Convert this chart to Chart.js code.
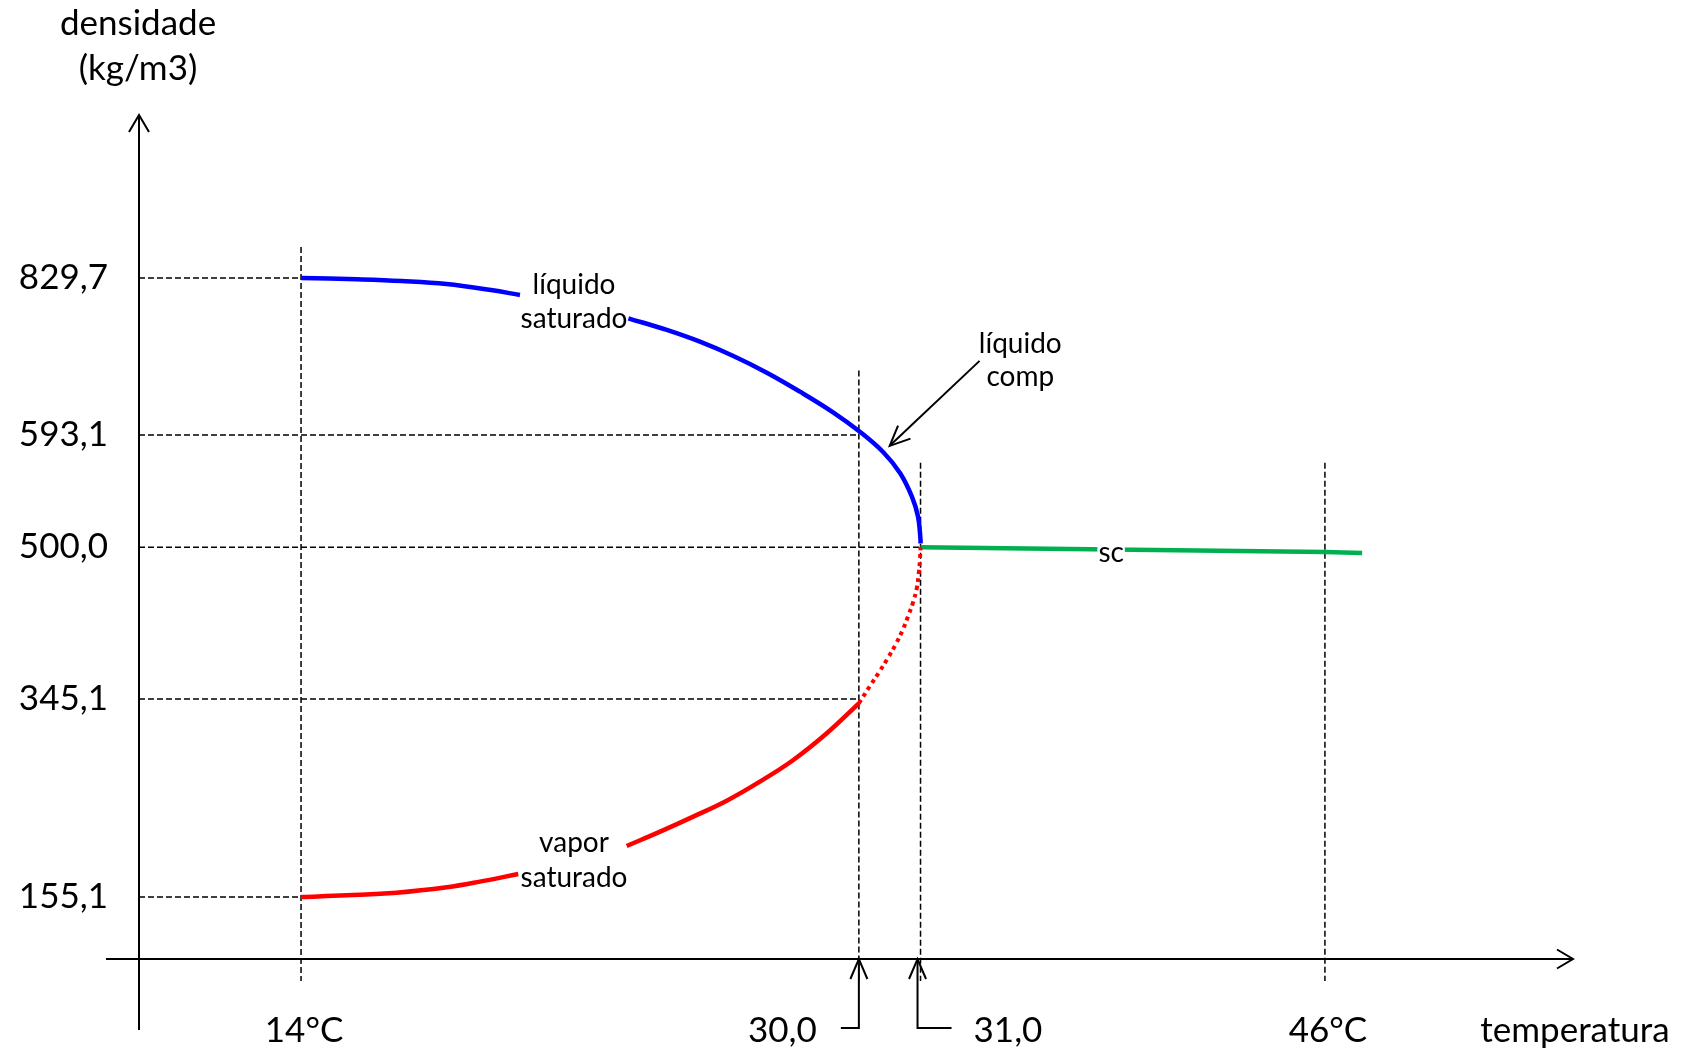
<!DOCTYPE html>
<html>
<head>
<meta charset="utf-8">
<script src="https://cdn.jsdelivr.net/npm/chart.js@4.4.1/dist/chart.umd.min.js"></script>
<style>
  html, body { margin: 0; padding: 0; background: #fff; }
</style>
</head>
<body>
<canvas id="chart" width="1701" height="1054"></canvas>
<script>
// ===========================================
// DADOS (lidos do diagrama)
// ===========================================

const tempTicks = [14, 30, 31, 46];
const tempLabels = ['14°C', '30,0', '31,0', '46°C'];
const densTicks = [829.7, 593.1, 500.0, 345.1, 155.1];
const densLabels = ['829,7', '593,1', '500,0', '345,1', '155,1'];

// até onde vai cada tracejado horizontal (temperatura)
const densGuideEnd = [14, 30, 31, 30, 14];
// onde começa cada tracejado vertical (densidade) e onde termina, abaixo do eixo
const tempGuideTop = [862, 690, 570, 570];
const guideBottom = -55;

// líquido saturado (null = espaço do rótulo)
const liqTemp = [14, 15.61, 16.89, 18.17, 19.45, 20.28, 21.8, 23.39, 24.49, 25.44, 26.4, 27.36, 28.31, 29.27, 30, 30.4, 30.67, 30.86, 30.96, 31, 31];
const liqDens = [829.7, 827.6, 825.0, 820.5, 811.4, 803.9, null, 768.8, 751.2, 733.5, 712.0, 686.8, 658.2, 626.8, 598.9, 578.5, 561.2, 541.8, 525.2, 505.9, 503];

// vapor saturado
const vapTemp = [14, 15.31, 16.74, 18.18, 19.13, 20.23, 21.8, 23.34, 24.3, 25.25, 26.21, 27.16, 28.12, 29.08, 30];
const vapDens = [155.1, 156.7, 159.2, 164.4, 169.8, 177.2, null, 204.0, 217.8, 232.2, 247.5, 265.8, 286.6, 312.2, 341.0];

// trecho pontilhado entre 30,0 e 31,0
const dotTemp = [30, 30.18, 30.33, 30.47, 30.6, 30.71, 30.8, 30.88, 30.94, 30.97, 30.99, 31];
const dotDens = [341.0, 358.4, 372.7, 386.9, 401.2, 415.5, 429.8, 444.0, 458.3, 472.6, 486.9, 500];

// supercrítico
const scTemp = [31, 46, 47.5];
const scDens = [500, 495, 494];

// ===========================================
// ESCALA POR TRECHOS (o desenho não é proporcional)
// ===========================================

const xKnots = [[10, 0], [14, 0.113], [30, 0.502], [31, 0.545], [46, 0.827], [56, 1]];
const yKnots = [[0, 0], [155.1, 0.0735], [345.1, 0.308], [500, 0.488], [593.1, 0.621], [829.7, 0.807], [1000, 1]];
const knotsById = { x: xKnots, y: yKnots };

class KnotScale extends Chart.LinearScale {
    toDecimal(v) {
        const k = knotsById[this.id];
        let i = 1;
        while (i < k.length - 1 && v > k[i][0]) i++;
        const [v0, f0] = k[i - 1];
        const [v1, f1] = k[i];
        return f0 + (v - v0) / (v1 - v0) * (f1 - f0);
    }
    getPixelForValue(value) {
        if (value === null || isNaN(value)) return NaN;
        return this.getPixelForDecimal(this.toDecimal(value));
    }
    getValueForPixel(pixel) {
        const d = this.getDecimalForPixel(pixel);
        const k = knotsById[this.id];
        let i = 1;
        while (i < k.length - 1 && d > k[i][1]) i++;
        const [v0, f0] = k[i - 1];
        const [v1, f1] = k[i];
        return v0 + (d - f0) / (f1 - f0) * (v1 - v0);
    }
}
KnotScale.id = 'knot';
KnotScale.defaults = Chart.LinearScale.defaults;
Chart.register(KnotScale);

// ===========================================
// DATASETS
// ===========================================

const zip = (xs, ys) => xs.map((x, i) => ({ x, y: ys[i] }));

const curve = (data, color, extra) => Object.assign({
    data, borderColor: color, borderWidth: 4.5, pointRadius: 0,
    tension: 0.4, fill: false, spanGaps: false, order: 1
}, extra || {});

const guide = data => ({
    data, borderColor: '#000', borderWidth: 1.5, borderDash: [6, 3],
    pointRadius: 0, tension: 0, fill: false, clip: false, order: 2
});

const datasets = [
    curve(zip(liqTemp, liqDens), '#0000FF'),
    curve(zip(vapTemp, vapDens), '#FF0000'),
    curve(zip(dotTemp, dotDens), '#FF0000', { borderDash: [4, 4], borderWidth: 4 }),
    curve(zip(scTemp, scDens), '#00B050', { tension: 0 }),
    ...densTicks.map((d, i) => guide([{ x: 10, y: d }, { x: densGuideEnd[i], y: d }])),
    ...tempTicks.map((t, i) => guide([{ x: t, y: tempGuideTop[i] }, { x: t, y: guideBottom }]))
];

// ===========================================
// TEXTOS E SETAS
// ===========================================

const notes = [
    { lines: ['líquido', 'saturado'], x: 21.83, y: 793.5, gap: 34 },
    { lines: ['vapor', 'saturado'], x: 21.83, y: 190.6, gap: 35 },
    { lines: ['líquido', 'comp'], x: 34.7, y: 705, gap: 33 },
    { lines: ['sc'], x: 38.07, y: 494, gap: 0, knockout: true }
];
const compArrow = { from: { x: 33.19, y: 704.6 }, to: { x: 30.5, y: 584 } };

const FONT = 'Lato, "Open Sans", sans-serif';

function seg(ctx, x1, y1, x2, y2) {
    ctx.beginPath();
    ctx.moveTo(x1, y1);
    ctx.lineTo(x2, y2);
    ctx.stroke();
}

function head(ctx, tx, ty, dx, dy, len, half) {
    const n = Math.hypot(dx, dy);
    const ux = dx / n, uy = dy / n;
    const bx = tx - ux * len, by = ty - uy * len;
    ctx.beginPath();
    ctx.moveTo(bx - uy * half, by + ux * half);
    ctx.lineTo(tx, ty);
    ctx.lineTo(bx + uy * half, by - ux * half);
    ctx.stroke();
}

const esquema = {
    id: 'esquema',
    afterDatasetsDraw(chart) {
        const { ctx, chartArea: a, scales: { x, y } } = chart;
        ctx.save();
        ctx.strokeStyle = '#000';
        ctx.fillStyle = '#000';
        ctx.lineWidth = 2;

        // eixos com seta
        seg(ctx, a.left - 33, a.bottom, a.right, a.bottom);
        head(ctx, a.right, a.bottom, 1, 0, 16, 9.5);
        seg(ctx, a.left, a.bottom + 71, a.left, a.top);
        head(ctx, a.left, a.top, 0, -1, 17, 10);

        // setas de 30,0 e 31,0
        const p30 = x.getPixelForValue(30);
        const p31 = x.getPixelForValue(31) - 3;
        const yb = a.bottom + 69;
        ctx.beginPath();
        ctx.moveTo(p30, a.bottom); ctx.lineTo(p30, yb); ctx.lineTo(p30 - 18, yb);
        ctx.stroke();
        head(ctx, p30, a.bottom, 0, -1, 20, 8.5);
        ctx.beginPath();
        ctx.moveTo(p31, a.bottom); ctx.lineTo(p31, yb); ctx.lineTo(p31 + 34, yb);
        ctx.stroke();
        head(ctx, p31, a.bottom, 0, -1, 20, 8.5);

        // seta "líquido comp"
        const fx = x.getPixelForValue(compArrow.from.x), fy = y.getPixelForValue(compArrow.from.y);
        const tx = x.getPixelForValue(compArrow.to.x), ty = y.getPixelForValue(compArrow.to.y);
        seg(ctx, fx, fy, tx, ty);
        head(ctx, tx, ty, tx - fx, ty - fy, 20, 9);

        // rótulos do eixo y
        ctx.font = '35px ' + FONT;
        ctx.textAlign = 'right';
        ctx.textBaseline = 'middle';
        densTicks.forEach((d, i) => ctx.fillText(densLabels[i], a.left - 31, y.getPixelForValue(d)));

        // rótulos do eixo x
        const align = ['center', 'right', 'left', 'center'];
        const shift = [3, -42, 53, 3];
        tempTicks.forEach((t, i) => {
            ctx.textAlign = align[i];
            ctx.fillText(tempLabels[i], x.getPixelForValue(t) + shift[i], a.bottom + 72);
        });
        ctx.textAlign = 'center';
        ctx.fillText('temperatura', a.right + 2, a.bottom + 72);
        ctx.fillText('densidade', a.left - 1, 24);
        ctx.fillText('(kg/m3)', a.left - 1, 69);

        // anotações
        ctx.font = '28px ' + FONT;
        notes.forEach(n => {
            const cx = x.getPixelForValue(n.x);
            const cy = y.getPixelForValue(n.y);
            n.lines.forEach((txt, j) => {
                const ly = cy + (j - (n.lines.length - 1) / 2) * n.gap;
                if (n.knockout) {
                    const w = ctx.measureText(txt).width;
                    ctx.fillStyle = '#fff';
                    ctx.fillRect(cx - w / 2 - 1, ly - 6, w + 2, 12);
                    ctx.fillStyle = '#000';
                }
                ctx.fillText(txt, cx, ly);
            });
        });
        ctx.restore();
    }
};

// ===========================================
// GRÁFICO
// ===========================================

new Chart(document.getElementById('chart'), {
    type: 'line',
    data: { datasets },
    options: {
        responsive: false,
        animation: false,
        devicePixelRatio: 1,
        layout: { padding: { left: 139, right: 128, top: 115, bottom: 95 } },
        scales: {
            x: { type: 'knot', min: 10, max: 56, display: false },
            y: { type: 'knot', min: 0, max: 1000, display: false }
        },
        plugins: { legend: { display: false }, tooltip: { enabled: false } }
    },
    plugins: [esquema]
});
</script>
</body>
</html>
